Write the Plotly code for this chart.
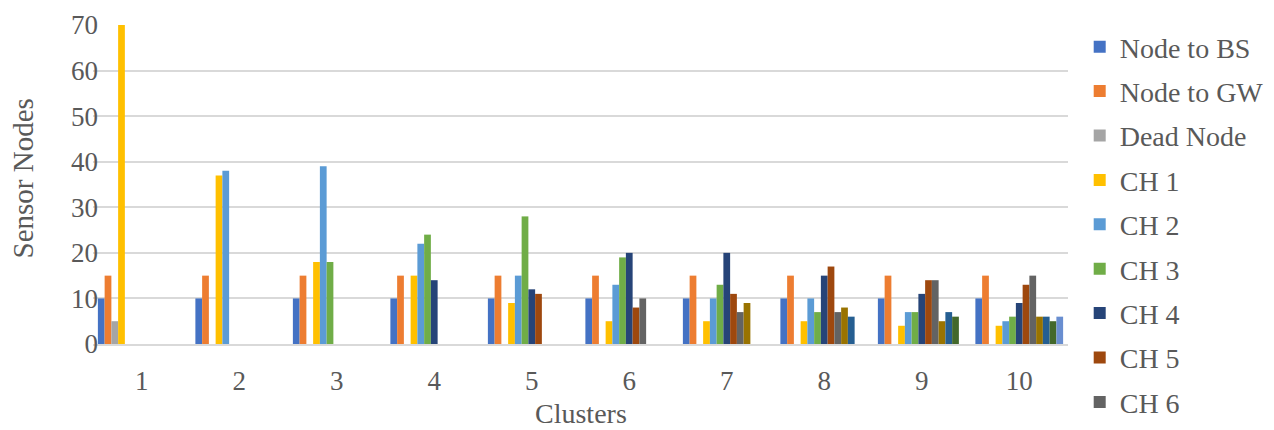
import plotly.graph_objects as go

clusters = ["1", "2", "3", "4", "5", "6", "7", "8", "9", "10"]
series_names = ["Node to BS", "Node to GW", "Dead Node", "CH 1", "CH 2", "CH 3",
                "CH 4", "CH 5", "CH 6", "CH 7", "CH 8", "CH 9", "CH 10"]
node_to_bs = [10, 10, 10, 10, 10, 10, 10, 10, 10, 10]
node_to_gw = [15, 15, 15, 15, 15, 15, 15, 15, 15, 15]
dead_node = [5, 0, 0, 0, 0, 0, 0, 0, 0, 0]
ch1 = [70, 37, 18, 15, 9, 5, 5, 5, 4, 4]
ch2 = [0, 38, 39, 22, 15, 13, 10, 10, 7, 5]
ch3 = [0, 0, 18, 24, 28, 19, 13, 7, 7, 6]
ch4 = [0, 0, 0, 14, 12, 20, 20, 15, 11, 9]
ch5 = [0, 0, 0, 0, 11, 8, 11, 17, 14, 13]
ch6 = [0, 0, 0, 0, 0, 10, 7, 7, 14, 15]
ch7 = [0, 0, 0, 0, 0, 0, 9, 8, 5, 6]
ch8 = [0, 0, 0, 0, 0, 0, 0, 6, 7, 6]
ch9 = [0, 0, 0, 0, 0, 0, 0, 0, 6, 5]
ch10 = [0, 0, 0, 0, 0, 0, 0, 0, 0, 6]
all_values = [node_to_bs, node_to_gw, dead_node, ch1, ch2, ch3, ch4, ch5, ch6,
              ch7, ch8, ch9, ch10]
colors = ["#4472C4", "#ED7D31", "#A5A5A5", "#FFC000", "#5B9BD5", "#70AD47",
          "#264478", "#9E480E", "#636363", "#997300", "#255E91", "#43682B", "#698ED0"]
legend_shown = 9

fig = go.Figure()
for i, (name, vals, col) in enumerate(zip(series_names, all_values, colors)):
    fig.add_trace(go.Bar(
        x=clusters, y=vals, name=name,
        marker=dict(color=col, line=dict(width=0)),
        legendgroup=name, showlegend=i < legend_shown,
    ))

font_family = "Liberation Serif, Times New Roman, serif"
text_color = "#595959"
fig.update_layout(
    width=1274, height=430,
    barmode="group", bargap=0.1, bargroupgap=0,
    plot_bgcolor="white", paper_bgcolor="white",
    margin=dict(l=93, r=206, t=25, b=86, autoexpand=False),
    font=dict(family=font_family, size=27, color=text_color),
    showlegend=True,
    legend=dict(x=1.012, y=1 - 22 / 430, xanchor="left", yanchor="top",
                yref="container",
                traceorder="grouped", tracegroupgap=5,
                font=dict(family=font_family, size=28, color=text_color),
                itemwidth=30, maxheight=1.0),
    xaxis=dict(showgrid=False, showline=True, linecolor="#D9D9D9", linewidth=1.5,
               ticks="", ticklen=0, ticklabelstandoff=12,
               tickfont=dict(family=font_family, size=27)),
    yaxis=dict(range=[0, 70], dtick=10, showgrid=True, gridcolor="#D9D9D9",
               gridwidth=1.5, zeroline=False, showline=False, ticks="", ticklen=0,
               ticklabelstandoff=-6,
               tickfont=dict(family=font_family, size=27)),
    annotations=[
        dict(text="Sensor Nodes", xref="paper", yref="paper", x=0, y=0.5,
             xanchor="center", yanchor="middle", xshift=-71, yshift=6, textangle=-90,
             showarrow=False, font=dict(family=font_family, size=29, color=text_color)),
        dict(text="Clusters", xref="paper", yref="paper", x=0.5, y=0,
             xanchor="center", yanchor="middle", yshift=-69,
             showarrow=False, font=dict(family=font_family, size=28, color=text_color)),
    ],
)

fig.write_html("out.html")
